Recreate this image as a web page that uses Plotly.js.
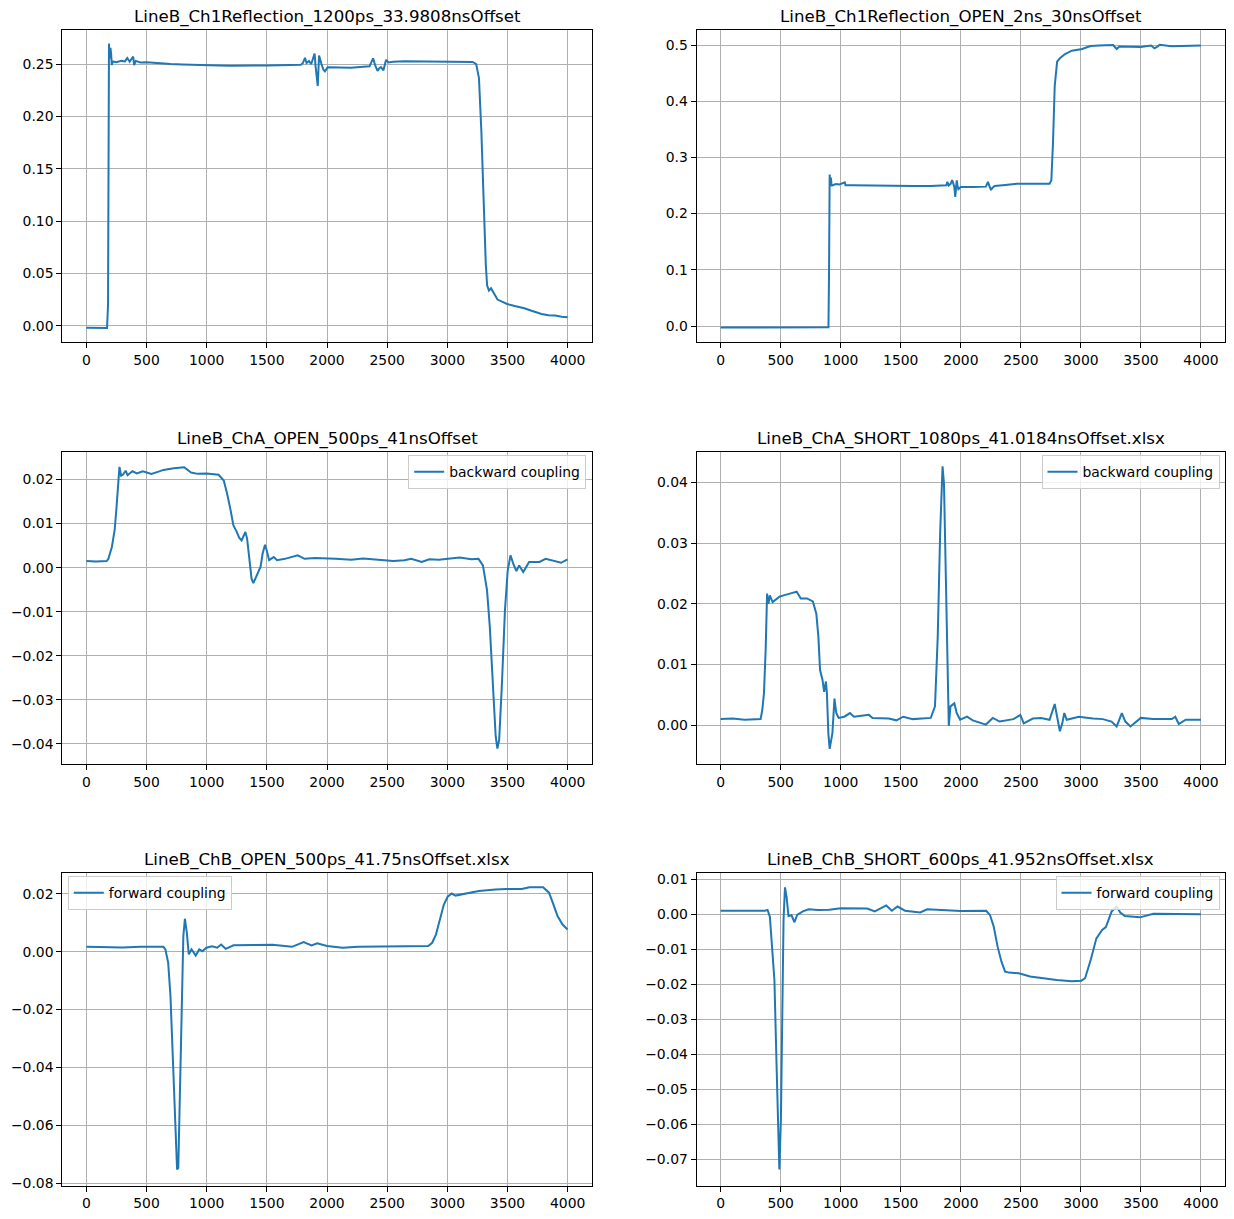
<!DOCTYPE html>
<html>
<head>
<meta charset="utf-8">
<script src="https://cdn.plot.ly/plotly-3.0.1.min.js"></script>
<style>html,body{margin:0;padding:0;background:#fff;}#chart{width:1234px;height:1219px;}</style>
</head>
<body>
<div id="chart"></div>
<script>
// ---- data ----
const titles = [
  "LineB_Ch1Reflection_1200ps_33.9808nsOffset",
  "LineB_Ch1Reflection_OPEN_2ns_30nsOffset",
  "LineB_ChA_OPEN_500ps_41nsOffset",
  "LineB_ChA_SHORT_1080ps_41.0184nsOffset.xlsx",
  "LineB_ChB_OPEN_500ps_41.75nsOffset.xlsx",
  "LineB_ChB_SHORT_600ps_41.952nsOffset.xlsx"
];
const seriesNames = ["", "", "backward coupling", "backward coupling", "forward coupling", "forward coupling"];
const xTicks = [0, 500, 1000, 1500, 2000, 2500, 3000, 3500, 4000];

const p1X = [0,60,100,150,172,180,184,188,194,200,206,211,220,250,290,320,340,360,389,397,410,450,500,600,700,800,900,1000,1100,1200,1300,1400,1500,1600,1700,1783,1800,1817,1830,1850,1869,1897,1905,1911,1923,1934,1945,1954,1970,1983,2006,2100,2200,2300,2354,2370,2383,2400,2420,2435,2449,2469,2480,2491,2511,2550,2640,2800,3000,3150,3211,3240,3255,3263,3283,3303,3320,3331,3346,3363,3389,3417,3450,3497,3560,3640,3700,3783,3840,3897,3950,3999];
const p1Y = [-0.0018,-0.0020,-0.0017,-0.0022,-0.0020,0.02,0.15,0.2695,0.255,0.2655,0.260,0.249,0.2525,0.2518,0.2530,0.2525,0.2557,0.2522,0.2572,0.2490,0.2530,0.2515,0.2516,0.2505,0.2500,0.2495,0.2490,0.2490,0.2485,0.2483,0.2487,0.2485,0.2487,0.2490,0.2488,0.2494,0.2510,0.2560,0.2510,0.2530,0.2500,0.2600,0.2480,0.2410,0.2290,0.2580,0.2520,0.2500,0.2445,0.2430,0.2470,0.2470,0.2465,0.2475,0.2478,0.2520,0.2555,0.2490,0.2435,0.2460,0.2470,0.2440,0.2480,0.2540,0.2515,0.2522,0.2526,0.2525,0.2525,0.2522,0.2520,0.2500,0.2420,0.2366,0.1855,0.1090,0.0578,0.0386,0.0338,0.0360,0.0307,0.0252,0.0235,0.0210,0.0190,0.0169,0.0145,0.0115,0.0102,0.0099,0.0088,0.0083];

const p2X = [0,200,400,600,800,898,903,906,908,911,914,918,923,928,960,990,1034,1040,1100,1200,1300,1464,1600,1750,1880,1888,1900,1915,1928,1940,1946,1954,1960,1966,1972,1980,2000,2037,2100,2209,2226,2240,2252,2265,2281,2350,2467,2600,2739,2754,2768,2782,2795,2802,2825,2868,2925,3011,3050,3083,3150,3269,3285,3298,3320,3400,3498,3584,3613,3640,3656,3756,3900,3999];
const p2Y = [-0.0025,-0.0026,-0.0028,-0.0027,-0.0025,-0.0024,0.10,0.24,0.2695,0.255,0.2488,0.264,0.252,0.2500,0.2525,0.2520,0.2555,0.2505,0.2505,0.2500,0.2495,0.2488,0.2490,0.2492,0.2506,0.2565,0.2500,0.2530,0.2595,0.2520,0.2470,0.2299,0.2480,0.2590,0.2500,0.2435,0.2475,0.2470,0.2472,0.2480,0.2565,0.2480,0.2420,0.2460,0.2490,0.2505,0.2530,0.2530,0.2530,0.2595,0.3274,0.4270,0.4650,0.4704,0.4764,0.4840,0.4900,0.4930,0.4960,0.4982,0.4990,0.5000,0.4960,0.4930,0.4975,0.4970,0.4965,0.4990,0.4940,0.4975,0.5006,0.4980,0.4985,0.4990];

const p3X = [0,80,169,183,212,235,249,260,275,289,303,326,343,383,420,469,541,600,641,727,813,870,927,1000,1099,1142,1170,1199,1222,1247,1270,1290,1305,1322,1336,1356,1373,1388,1414,1448,1465,1485,1499,1519,1557,1585,1650,1757,1814,1900,2072,2200,2300,2450,2550,2644,2700,2787,2850,2930,3102,3200,3259,3296,3330,3353,3376,3402,3416,3431,3454,3479,3502,3525,3548,3574,3597,3631,3680,3766,3817,3903,3946,3999];
const p3Y = [0.0015,0.0014,0.0015,0.0020,0.0047,0.0085,0.0131,0.0183,0.0229,0.0209,0.0211,0.0220,0.0210,0.0219,0.0214,0.0219,0.0213,0.0218,0.0222,0.0226,0.0228,0.0216,0.0213,0.0214,0.0211,0.0198,0.0168,0.0130,0.0096,0.0083,0.0068,0.0062,0.0073,0.0081,0.0066,0.0009,-0.0025,-0.0035,-0.0017,0.0002,0.0032,0.0052,0.0039,0.0017,0.0024,0.0017,0.0020,0.0028,0.0020,0.0022,0.0020,0.0018,0.0021,0.0017,0.0015,0.0017,0.0020,0.0013,0.0019,0.0018,0.0023,0.0019,0.0020,0.0005,-0.0051,-0.0134,-0.0263,-0.0383,-0.0411,-0.0391,-0.0263,-0.0097,-0.0006,0.0028,0.0009,-0.0008,0.0005,-0.0010,0.0013,0.0013,0.0020,0.0013,0.0011,0.0019];

const p4X = [0,100,200,333,347,361,375,387,398,410,433,490,576,633,668,719,768,797,814,828,848,862,877,885,897,908,931,948,963,983,1030,1077,1110,1235,1265,1400,1464,1521,1600,1750,1785,1808,1828,1848,1860,1874,1888,1900,1914,1928,1946,1966,1994,2052,2100,2209,2266,2324,2400,2438,2496,2524,2600,2668,2739,2782,2802,2825,2845,2862,2882,2983,3100,3183,3255,3298,3341,3370,3413,3499,3600,3757,3786,3815,3873,3999];
const p4Y = [0.0010,0.0011,0.0009,0.0010,0.0025,0.0053,0.0124,0.0217,0.0200,0.0214,0.0203,0.0212,0.0217,0.0220,0.0209,0.0209,0.0204,0.0184,0.0146,0.0091,0.0075,0.0055,0.0072,0.0053,-0.0013,-0.0039,-0.0013,0.0044,0.0020,0.0012,0.0014,0.0020,0.0014,0.0017,0.0012,0.0011,0.0008,0.0014,0.0010,0.0012,0.0031,0.0146,0.0316,0.0427,0.0398,0.0234,0.0069,-0.0001,0.0031,0.0033,0.0036,0.0020,0.0009,0.0014,0.0008,0.0001,0.0012,0.0006,0.0008,0.0010,0.0017,0.0003,0.0011,0.0012,0.0009,0.0035,0.0014,-0.0010,0.0003,0.0020,0.0009,0.0014,0.0011,0.0010,0.0006,-0.0002,0.0020,0.0006,-0.0002,0.0012,0.0010,0.0010,0.0014,0.0002,0.0009,0.0009];

const p5X = [0,150,300,450,640,657,680,699,718,738,754,764,777,793,806,819,835,851,874,893,909,938,964,997,1045,1087,1120,1158,1223,1400,1547,1709,1806,1871,1919,2000,2130,2259,2400,2600,2841,2874,2906,2939,2971,3003,3036,3068,3165,3262,3400,3489,3618,3683,3796,3845,3877,3916,3958,3999];
const p5Y = [0.0017,0.0016,0.0015,0.0017,0.0017,0.0008,-0.0038,-0.0153,-0.0360,-0.0590,-0.0752,-0.0747,-0.0522,-0.0153,0.0054,0.0114,0.0066,-0.0009,0.0008,-0.0003,-0.0013,0.0008,0.0002,0.0014,0.0019,0.0014,0.0025,0.0010,0.0022,0.0023,0.0024,0.0017,0.0033,0.0022,0.0029,0.0020,0.0014,0.0017,0.0018,0.0019,0.0020,0.0031,0.0060,0.0112,0.0163,0.0190,0.0201,0.0194,0.0201,0.0210,0.0215,0.0217,0.0217,0.0223,0.0223,0.0204,0.0169,0.0123,0.0094,0.0077];

const p6X = [0,150,300,369,391,410,432,448,464,479,489,502,511,524,536,549,565,590,615,637,685,732,811,905,1000,1221,1284,1379,1426,1473,1536,1662,1720,2000,2211,2243,2274,2306,2338,2369,2401,2483,2577,2672,2798,2924,3003,3035,3082,3129,3177,3208,3256,3297,3328,3366,3492,3603,3744,3999];
const p6Y = [0.0010,0.0011,0.0010,0.0010,0.0012,-0.0007,-0.0111,-0.0188,-0.0407,-0.0616,-0.0730,-0.0587,-0.0350,-0.0016,0.0077,0.0050,-0.0005,-0.0003,-0.0023,-0.0002,0.0008,0.0014,0.0012,0.0013,0.0017,0.0016,0.0008,0.0025,0.0010,0.0022,0.0010,0.0005,0.0014,0.0009,0.0010,-0.0002,-0.0035,-0.0092,-0.0135,-0.0164,-0.0167,-0.0169,-0.0178,-0.0183,-0.0188,-0.0192,-0.0190,-0.0183,-0.0130,-0.0069,-0.0045,-0.0037,0.0008,0.0022,0.0005,-0.0005,-0.0009,0.0001,0.0001,0.0000];

// y tick values per panel
const yTicks1 = [0.00, 0.05, 0.10, 0.15, 0.20, 0.25];
const yTicks2 = [0.0, 0.1, 0.2, 0.3, 0.4, 0.5];
const yTicks3 = [-0.04, -0.03, -0.02, -0.01, 0.00, 0.01, 0.02];
const yTicks4 = [0.00, 0.01, 0.02, 0.03, 0.04];
const yTicks5 = [-0.08, -0.06, -0.04, -0.02, 0.00, 0.02];
const yTicks6 = [-0.07, -0.06, -0.05, -0.04, -0.03, -0.02, -0.01, 0.00, 0.01];

// ---- layout / style ----
const W = 1234, H = 1219;
const colDom = [[62.3/W, 591.7/W], [696.6/W, 1225/W]];
const rowPx = [[30.3, 342.3], [452.3, 764], [873.3, 1185.6]];
const rowDom = rowPx.map(r => [1 - r[1]/H, 1 - r[0]/H]);

const panels = [
  {x: p1X, y: p1Y, yt: yTicks1, dec: 2, yr: [-0.0156, 0.2822]},
  {x: p2X, y: p2Y, yt: yTicks2, dec: 1, yr: [-0.029, 0.5262]},
  {x: p3X, y: p3Y, yt: yTicks3, dec: 2, yr: [-0.0446, 0.0262]},
  {x: p4X, y: p4Y, yt: yTicks4, dec: 2, yr: [-0.0064, 0.0450]},
  {x: p5X, y: p5Y, yt: yTicks5, dec: 2, yr: [-0.0808, 0.0271]},
  {x: p6X, y: p6Y, yt: yTicks6, dec: 2, yr: [-0.0776, 0.0117]}
];

function fmtTick(v, d) {
  let s = Math.abs(v).toFixed(d);
  if (v < 0 && parseFloat(s) !== 0) s = '\u2212' + s;
  return s;
}

const FONT = 'DejaVu Sans, Verdana, sans-serif';
const traces = [];
const layout = {
  width: W, height: H,
  margin: {l: 0, r: 0, t: 0, b: 0},
  paper_bgcolor: '#ffffff', plot_bgcolor: '#ffffff',
  font: {family: FONT, size: 13.9, color: '#000000'},
  showlegend: true,
  annotations: []
};

const legendPos = [null, null,
  {x: (591.7-5.5)/W, y: 1-(452.3+3)/H, xanchor: 'right'},
  {x: (1225-5.5)/W, y: 1-(452.3+3)/H, xanchor: 'right'},
  {x: (62.3+5.5)/W, y: 1-(873.3+3)/H, xanchor: 'left'},
  {x: (1225-5.5)/W, y: 1-(873.3+3)/H, xanchor: 'right'}
];

let legCount = 0;
panels.forEach((p, i) => {
  const col = i % 2, row = Math.floor(i / 2);
  const n = i + 1;
  const suf = n === 1 ? '' : String(n);
  const tr = {
    type: 'scatter', mode: 'lines',
    x: p.x, y: p.y,
    xaxis: 'x' + suf, yaxis: 'y' + suf,
    line: {color: '#1f77b4', width: 2},
    name: seriesNames[i] || titles[i],
    showlegend: !!seriesNames[i]
  };
  if (seriesNames[i]) {
    legCount++;
    const key = 'legend' + (legCount === 1 ? '' : legCount);
    tr.legend = key;
    const lp = legendPos[i];
    layout[key] = {
      x: lp.x, y: lp.y, xanchor: lp.xanchor, yanchor: 'top',
      xref: 'paper', yref: 'paper',
      bgcolor: 'rgba(255,255,255,0.8)', bordercolor: '#cccccc', borderwidth: 1,
      font: {family: FONT, size: 13.9, color: '#000000'},
      itemwidth: 30, tracegroupgap: 0
    };
  }
  traces.push(tr);

  const common = {
    showline: true, mirror: true, linecolor: '#000000', linewidth: 1,
    ticks: 'outside', ticklen: 5, tickwidth: 1, tickcolor: '#000000',
    showgrid: true, gridcolor: '#b0b0b0', gridwidth: 1,
    zeroline: false,
    tickfont: {family: FONT, size: 13.9, color: '#000000'},
    fixedrange: true
  };
  layout['xaxis' + suf] = Object.assign({}, common, {
    domain: colDom[col], anchor: 'y' + suf,
    range: [-200, 4200], tickmode: 'array', tickvals: xTicks,
    ticktext: xTicks.map(String)
  });
  layout['yaxis' + suf] = Object.assign({}, common, {
    domain: rowDom[row], anchor: 'x' + suf,
    range: p.yr, tickmode: 'array', tickvals: p.yt,
    ticktext: p.yt.map(v => fmtTick(v, p.dec))
  });

  layout.annotations.push({
    text: titles[i], showarrow: false,
    xref: 'paper', yref: 'paper',
    x: (colDom[col][0] + colDom[col][1]) / 2, y: rowDom[row][1],
    xanchor: 'center', yanchor: 'bottom', yshift: 1,
    font: {family: FONT, size: 16.67, color: '#000000'}
  });
});

Plotly.newPlot('chart', traces, layout, {displayModeBar: false, staticPlot: true});
</script>
</body>
</html>
